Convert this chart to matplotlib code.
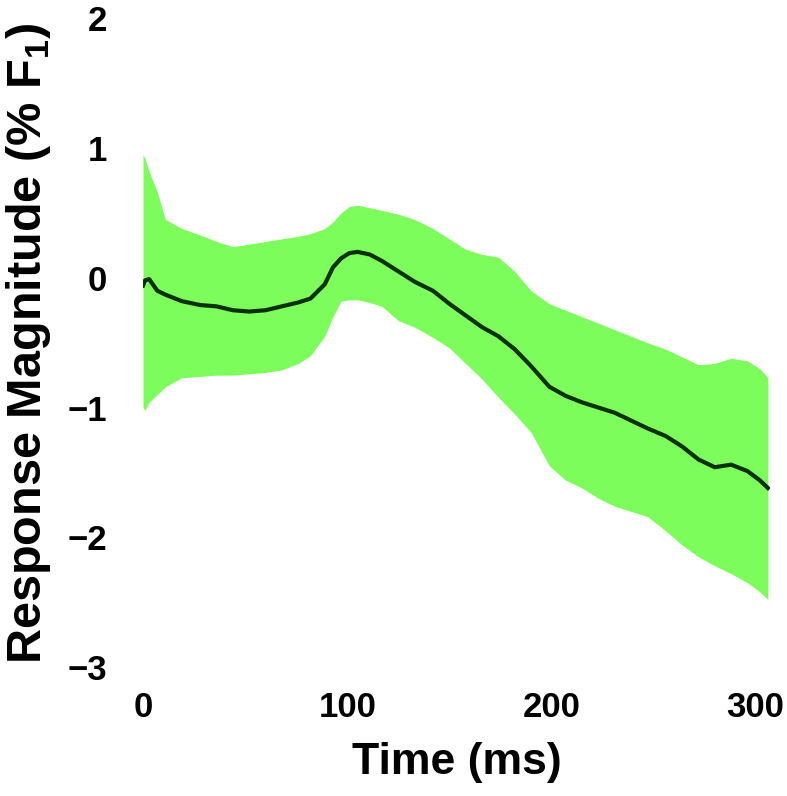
import matplotlib
matplotlib.use("Agg")
import matplotlib.pyplot as plt
import numpy as np

plt.rcParams['font.family'] = ['Liberation Sans', 'DejaVu Sans']
plt.rcParams['font.weight'] = 'bold'
plt.rcParams['mathtext.fontset'] = 'custom'
plt.rcParams['mathtext.rm'] = 'Liberation Sans:bold'
plt.rcParams['mathtext.bf'] = 'Liberation Sans:bold'

time_ms = [0, 1, 3, 7, 11, 19, 28, 36, 44, 52, 60, 68, 76, 82, 89, 93, 97, 101,
           105, 111, 117, 125, 133, 142, 150, 158, 166, 174, 182, 190, 199, 207,
           215, 223, 231, 239, 247, 256, 264, 272, 280, 288, 296, 302, 306]

mean_resp = [-0.06, -0.02, -0.01, -0.10, -0.13, -0.18, -0.21, -0.22, -0.25, -0.26,
             -0.25, -0.22, -0.19, -0.16, -0.05, 0.08, 0.15, 0.19, 0.20, 0.18,
             0.13, 0.05, -0.03, -0.10, -0.20, -0.29, -0.38, -0.45, -0.55, -0.68,
             -0.84, -0.91, -0.96, -1.00, -1.04, -1.10, -1.16, -1.22, -1.30, -1.40,
             -1.46, -1.44, -1.49, -1.56, -1.62]

upper_resp = [0.95, 0.92, 0.82, 0.66, 0.45, 0.38, 0.33, 0.28, 0.24, 0.26,
              0.28, 0.30, 0.32, 0.34, 0.38, 0.43, 0.50, 0.55, 0.56, 0.54,
              0.52, 0.49, 0.45, 0.38, 0.30, 0.22, 0.18, 0.16, 0.05, -0.10,
              -0.20, -0.25, -0.30, -0.35, -0.40, -0.45, -0.50, -0.55, -0.61, -0.67,
              -0.66, -0.62, -0.64, -0.70, -0.77]

lower_resp = [-1.00, -1.02, -0.96, -0.90, -0.84, -0.77, -0.76, -0.75, -0.75, -0.74,
              -0.73, -0.71, -0.66, -0.60, -0.45, -0.30, -0.18, -0.17, -0.17, -0.19,
              -0.22, -0.33, -0.38, -0.46, -0.54, -0.66, -0.78, -0.92, -1.05, -1.19,
              -1.45, -1.56, -1.62, -1.70, -1.76, -1.80, -1.84, -1.95, -2.06, -2.15,
              -2.22, -2.28, -2.35, -2.42, -2.48]

x_ticks = [0, 100, 200, 300]
y_ticks = [-3, -2, -1, 0, 1, 2]
y_tick_labels = ['\u22123', '\u22122', '\u22121', '0', '1', '2']

fig = plt.figure(figsize=(7.87, 7.96), dpi=100)
ax = fig.add_axes([0.1817, 0.162, 0.7966, 0.815])

ax.fill_between(time_ms, lower_resp, upper_resp, color='#7dfd5b', linewidth=0)
ax.plot(time_ms, mean_resp, color='#0a300a', linewidth=3)

ax.set_xlim(0, 307)
ax.set_ylim(-3, 2)
ax.set_xticks(x_ticks)
ax.set_yticks(y_ticks)
ax.set_yticklabels(y_tick_labels)
for s in ax.spines.values():
    s.set_visible(False)
ax.tick_params(axis='both', length=0, labelsize=25)
ax.tick_params(axis='y', pad=26)
ax.tick_params(axis='x', pad=17)
for lbl in ax.get_xticklabels() + ax.get_yticklabels():
    lbl.set_fontweight('bold')

ax.set_xlabel('Time (ms)', fontsize=32, fontweight='bold', labelpad=13)
ax.set_ylabel('Response Magnitude (% F$_1$)', fontsize=35, fontweight='bold', labelpad=10)

fig.savefig('out.png', dpi=100)
